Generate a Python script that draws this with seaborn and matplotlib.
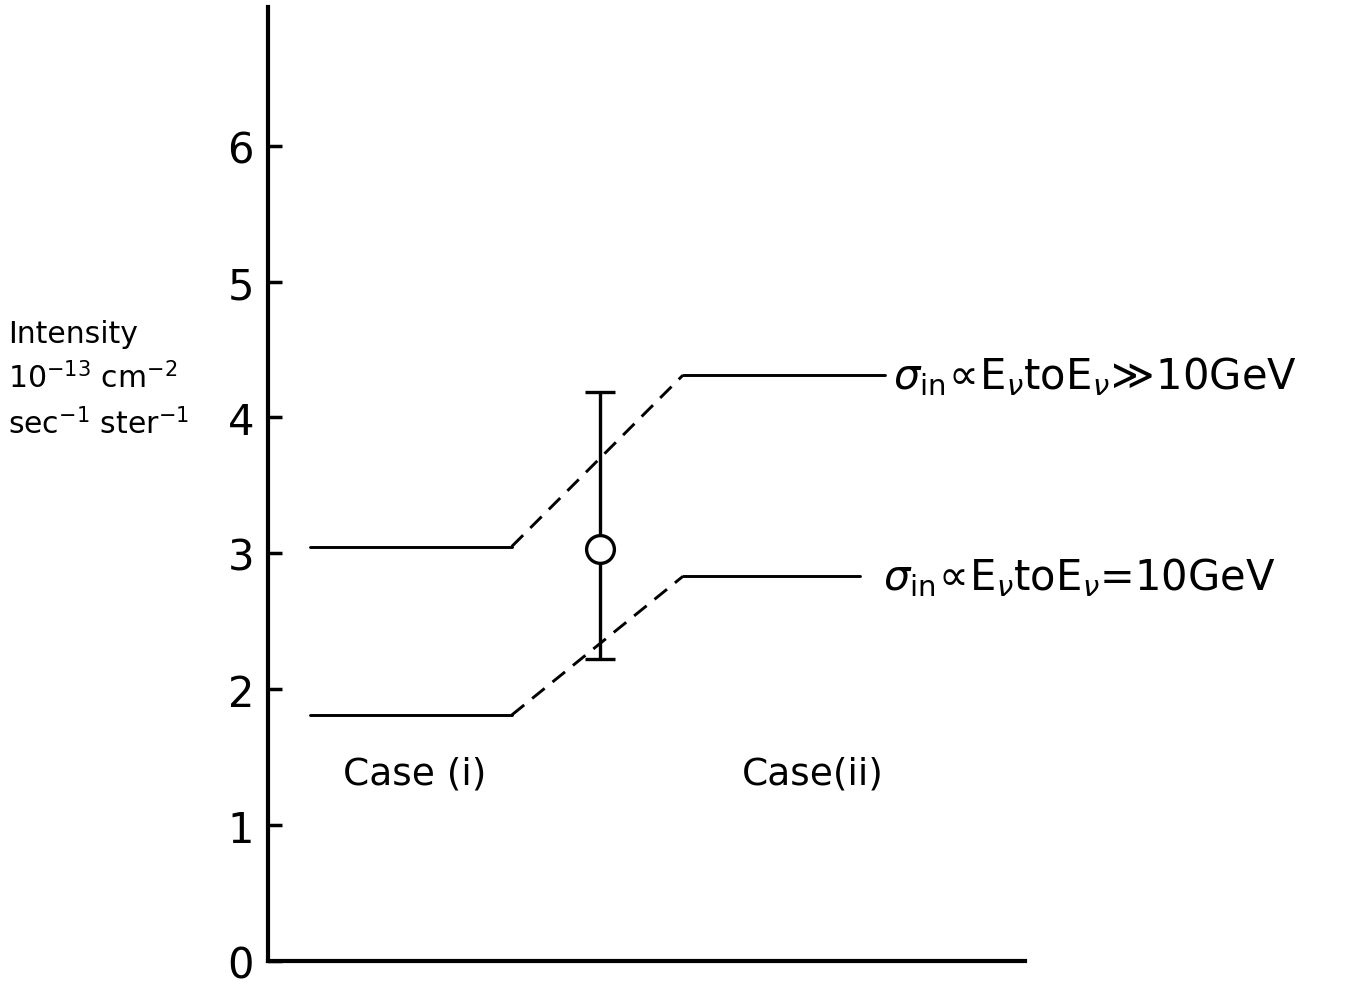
import numpy as np
import pandas as pd
import seaborn as sns
import matplotlib.pyplot as plt

# x positions are arbitrary (no x scale in the original)
x_knots = [0.55, 3.22, 5.48, 8.15]
upper_y = [3.05, 3.05, 4.31, 4.31]
lower_x = [0.55, 3.22, 5.48, 7.82]
lower_y = [1.81, 1.81, 2.83, 2.83]

point_x = 4.39
point_y = 3.03
err_low = 2.22
err_high = 4.19

yticks = [0, 1, 2, 3, 4, 5, 6]

sns.set_style("white")
plt.rcParams['font.family'] = ['DejaVu Sans']
plt.rcParams['mathtext.fontset'] = 'dejavusans'
plt.rcParams['text.color'] = 'black'
plt.rcParams['ytick.color'] = 'black'

fig = plt.figure(figsize=(13.49, 9.87), dpi=100)
ax = fig.add_axes([268 / 1349, 1 - 962 / 987, (1025 - 268) / 1349, (962 - 8) / 987])


def seg(xs, ys, style):
    df = pd.DataFrame({"x": xs, "y": ys})
    sns.lineplot(data=df, x="x", y="y", ax=ax, color="black", lw=2.1,
                 linestyle=style, sort=False, estimator=None)


for xs, ys in [(x_knots, upper_y), (lower_x, lower_y)]:
    seg(xs[:2], ys[:2], "-")
    seg(xs[1:3], ys[1:3], (0, (5.5, 3.5)))
    seg(xs[2:], ys[2:], "-")

ax.errorbar([point_x], [point_y],
            yerr=[[point_y - err_low], [err_high - point_y]],
            fmt="o", mfc="white", mec="black", mew=2.4, ms=20,
            ecolor="black", elinewidth=2.4, capsize=11, capthick=3.5, zorder=5)

ax.text(8.25, 4.31, r"$\sigma_{\mathrm{in}}\!\propto\!\mathrm{E}_\nu$to$\mathrm{E}_\nu\!\gg\!$10GeV",
        fontsize=30, va="center", ha="left", clip_on=False)
ax.text(8.12, 2.83, r"$\sigma_{\mathrm{in}}\!\propto\!\mathrm{E}_\nu$to$\mathrm{E}_\nu$=10GeV",
        fontsize=30, va="center", ha="left", clip_on=False)

ax.text(1.94, 1.38, "Case (i)", fontsize=27, ha="center", va="center")
ax.text(7.2, 1.38, "Case(ii)", fontsize=27, ha="center", va="center")

fig.text(8 / 1349, 1 - 380 / 987,
         "Intensity\n$10^{-13}$ cm$^{-2}$\nsec$^{-1}$ ster$^{-1}$",
         fontsize=21.5, ha="left", va="center", linespacing=1.5)

ax.set_xlim(0, 10)
ax.set_ylim(0.0, 7.02)
ax.set_yticks(yticks)
ax.set_yticklabels([str(t) for t in yticks], fontsize=30)
ax.set_xticks([])
ax.set_xlabel("")
ax.set_ylabel("")
ax.tick_params(axis="y", direction="in", length=10, width=2.5, pad=10, left=True)
for s in ["top", "right"]:
    ax.spines[s].set_visible(False)
for s in ["left", "bottom"]:
    ax.spines[s].set_linewidth(3)
    ax.spines[s].set_color("black")

fig.savefig("out.png", dpi=100, facecolor="white")
